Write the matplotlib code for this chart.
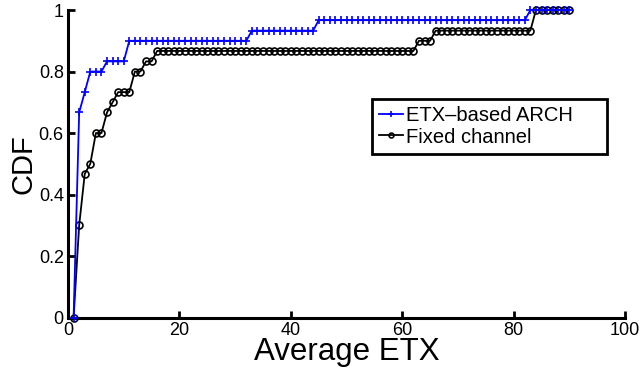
import numpy as np
import matplotlib
matplotlib.use("Agg")
import matplotlib.pyplot as plt

plt.rcParams['font.family'] = ['Liberation Sans', 'DejaVu Sans']

# CDF of average ETX, one point per integer ETX value 1..90
etx = np.arange(1, 91)

arch_cdf = [0.0, 0.667, 0.733, 0.8, 0.8, 0.8, 0.833, 0.833, 0.833, 0.833,
            0.9, 0.9, 0.9, 0.9, 0.9, 0.9, 0.9, 0.9, 0.9, 0.9,
            0.9, 0.9, 0.9, 0.9, 0.9, 0.9, 0.9, 0.9, 0.9, 0.9,
            0.9, 0.9, 0.933, 0.933, 0.933, 0.933, 0.933, 0.933, 0.933, 0.933,
            0.933, 0.933, 0.933, 0.933, 0.967, 0.967, 0.967, 0.967, 0.967, 0.967,
            0.967, 0.967, 0.967, 0.967, 0.967, 0.967, 0.967, 0.967, 0.967, 0.967,
            0.967, 0.967, 0.967, 0.967, 0.967, 0.967, 0.967, 0.967, 0.967, 0.967,
            0.967, 0.967, 0.967, 0.967, 0.967, 0.967, 0.967, 0.967, 0.967, 0.967,
            0.967, 0.967, 1.0, 1.0, 1.0, 1.0, 1.0, 1.0, 1.0, 1.0]

fixed_cdf = [0.0, 0.3, 0.467, 0.5, 0.6, 0.6, 0.667, 0.7, 0.733, 0.733,
             0.733, 0.8, 0.8, 0.833, 0.833, 0.867, 0.867, 0.867, 0.867, 0.867,
             0.867, 0.867, 0.867, 0.867, 0.867, 0.867, 0.867, 0.867, 0.867, 0.867,
             0.867, 0.867, 0.867, 0.867, 0.867, 0.867, 0.867, 0.867, 0.867, 0.867,
             0.867, 0.867, 0.867, 0.867, 0.867, 0.867, 0.867, 0.867, 0.867, 0.867,
             0.867, 0.867, 0.867, 0.867, 0.867, 0.867, 0.867, 0.867, 0.867, 0.867,
             0.867, 0.867, 0.9, 0.9, 0.9, 0.933, 0.933, 0.933, 0.933, 0.933,
             0.933, 0.933, 0.933, 0.933, 0.933, 0.933, 0.933, 0.933, 0.933, 0.933,
             0.933, 0.933, 0.933, 1.0, 1.0, 1.0, 1.0, 1.0, 1.0, 1.0]

xticks = [0, 20, 40, 60, 80, 100]
yticks = [0, 0.2, 0.4, 0.6, 0.8, 1]
ytick_labels = ['0', '0.2', '0.4', '0.6', '0.8', '1']

fig = plt.figure(figsize=(6.43, 3.72), dpi=100)
ax = fig.add_axes([0.1058, 0.1465, 0.8663, 0.8265])

ax.plot(etx, arch_cdf, color='blue', lw=1.3, marker='+', ms=6, mew=1.2,
        label='ETX\u2013based ARCH', clip_on=False, zorder=3)
ax.plot(etx, fixed_cdf, color='black', lw=1.3, marker='o', ms=5, mew=1.2,
        mfc='none', label='Fixed channel', clip_on=False, zorder=2)

ax.set_xlim(0, 100)
ax.set_ylim(0, 1)
ax.set_xticks(xticks)
ax.set_yticks(yticks)
ax.set_yticklabels(ytick_labels)

for side in ['top', 'right']:
    ax.spines[side].set_visible(False)
for side in ['left', 'bottom']:
    ax.spines[side].set_linewidth(2.2)
ax.tick_params(direction='in', length=5, width=2, labelsize=13)
ax.tick_params(axis='x', pad=3)
ax.tick_params(axis='y', pad=3)

ax.set_xlabel('Average ETX', fontsize=22.5, labelpad=-1)
ax.set_ylabel('CDF', fontsize=21, labelpad=1)

# legend box stretched to the width of the original one
leg = ax.legend(loc='upper left', bbox_to_anchor=(0.5458, 0.538, 0.422, 0.1725),
                mode='expand', fontsize=14.5,
                fancybox=False, framealpha=1, edgecolor='black',
                handlelength=1.2, handletextpad=0.15, borderpad=0.35,
                labelspacing=0.12, borderaxespad=0, markerscale=0.7)
leg.get_frame().set_linewidth(2)

fig.savefig('out.png', dpi=100)
